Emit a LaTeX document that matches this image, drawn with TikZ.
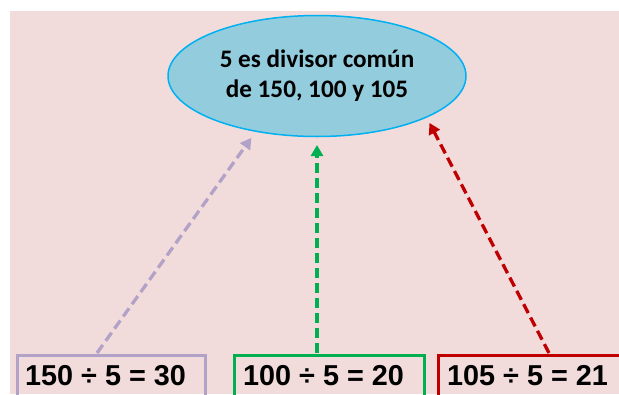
\documentclass[tikz,border=0pt]{standalone}
\usepackage{fontspec}
\setmainfont{Liberation Sans}
\newfontfamily\calib{Carlito}
\usetikzlibrary{shapes.geometric,arrows.meta}
\definecolor{bgpink}{HTML}{F2DCDB}
\definecolor{ellfill}{HTML}{93CDDD}
\definecolor{elldraw}{HTML}{00B0F0}
\definecolor{lav}{HTML}{B3A2C7}
\definecolor{grn}{HTML}{00B050}
\definecolor{rd}{HTML}{C00000}
\tikzset{
  frame/.style={draw=#1, line width=3pt, rectangle, anchor=north west, minimum height=60pt, inner sep=0pt},
  eqtext/.style={anchor=base west, inner sep=0pt, font=\fontsize{28.8}{30}\selectfont\bfseries},
  conn/.style={draw=#1, line width=3.3pt, dash pattern=on 10pt off 5pt, shorten >=1pt,
    -{Triangle[length=11pt,width=12pt,fill=#1]}},
}
\begin{document}
\begin{tikzpicture}[x=1pt,y=-1pt]
\useasboundingbox (0,0) rectangle (619,394);
\fill[bgpink] (10,11) rectangle (619,394);
\node[ellipse, draw=elldraw, line width=1.5pt, fill=ellfill, minimum width=298pt, minimum height=121pt,
  align=center, font=\calib\fontsize{25.2}{30}\selectfont\bfseries, inner sep=0pt] (ell) at (317,76)
  {5 es divisor común\\de 150, 100 y 105};
\node[frame=lav, minimum width=188pt] (b1) at (16,354) {};
\node[frame=grn, minimum width=190pt] (b2) at (233,354) {};
\node[frame=rd, minimum width=200pt] (b3) at (437,354) {};
\node[eqtext] (t1) at (25,385) {150 ÷ 5 = 30};
\node[eqtext] (t2) at (243,385) {100 ÷ 5 = 20};
\node[eqtext] (t3) at (447,385) {105 ÷ 5 = 21};
\coordinate (s1) at (97,353);
\coordinate (s2) at (317,353);
\coordinate (s3) at (549,353);
\coordinate (e1) at (252,137);
\coordinate (e2) at (317,144);
\coordinate (e3) at (429,122);
\draw[conn=lav] (s1) -- (e1);
\draw[conn=grn] (s2) -- (e2);
\draw[conn=rd] (s3) -- (e3);
\end{tikzpicture}
\end{document}
